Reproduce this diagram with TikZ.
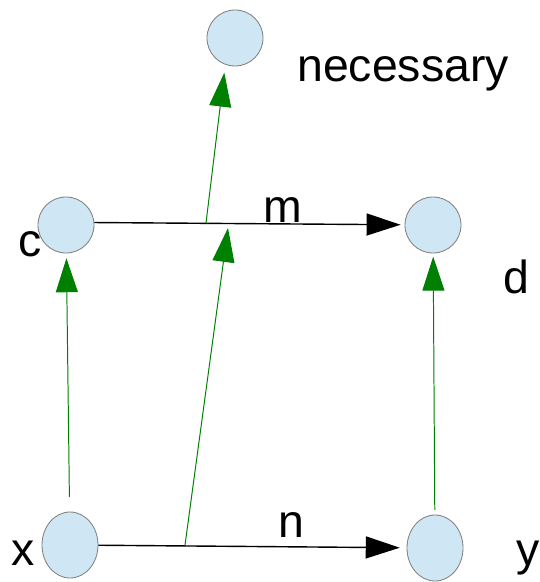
\documentclass[tikz,border=0pt]{standalone}
\usepackage{fontspec}
\setmainfont{Liberation Sans}
\usetikzlibrary{arrows.meta,shapes.geometric}
\definecolor{nodeblue}{RGB}{207,231,245}
\definecolor{arrowgreen}{RGB}{0,128,0}

\begin{document}
\begin{tikzpicture}[x=0.025cm, y=-0.025cm,
  dot/.style={circle, draw=gray, fill=nodeblue, line width=0.6pt, minimum size=1.4cm, inner sep=0pt},
  oval/.style={ellipse, draw=gray, fill=nodeblue, line width=0.6pt, minimum width=1.4cm, minimum height=1.65cm, inner sep=0pt},
  lbl/.style={anchor=base west, inner sep=0pt, font=\fontsize{33}{40}\selectfont},
  arr/.style={-{Triangle[length=0.85cm, width=0.55cm]}, line width=1pt},
  garr/.style={-{Triangle[length=0.85cm, width=0.55cm]}, arrowgreen, line width=0.7pt}]
\useasboundingbox (0,0) rectangle (539,582);
% circles
\node[dot] (top) at (235,38) {};
\node[dot] (c) at (66,225) {};
\node[dot] (d) at (433,225) {};
\node[oval] (x) at (70,545) {};
\node[oval] (y) at (435,548) {};
% black arrows
\draw[arr, shorten >=0.1cm] (c.5) -- (d);
\draw[arr, shorten >=0.17cm] (x) -- (y);
% points on the black arrows
\coordinate (pn) at (185,545);
\coordinate (pm) at (228,228);
\coordinate (pc) at (206,223);
% green arrows
\draw[garr, shorten <=0.37cm, shorten >=0.12cm] (x) -- (c);
\draw[garr, shorten <=0.12cm, shorten >=0.08cm] (y) -- (d);
\draw[garr] (pn) -- (pm);
\draw[garr, shorten >=0.2cm] (pc) -- (top.-110);
% labels
\node[lbl] (necessarylbl) at (297,82) {necessary};
\node[lbl] (mlbl) at (263,223) {m};
\node[lbl] (nlbl) at (278,537) {n};
\node[lbl] (clbl) at (18,257) {c};
\node[lbl] (dlbl) at (503,293) {d};
\node[lbl] (xlbl) at (11,565) {x};
\node[lbl] (ylbl) at (516,565) {y};
\end{tikzpicture}
\end{document}
